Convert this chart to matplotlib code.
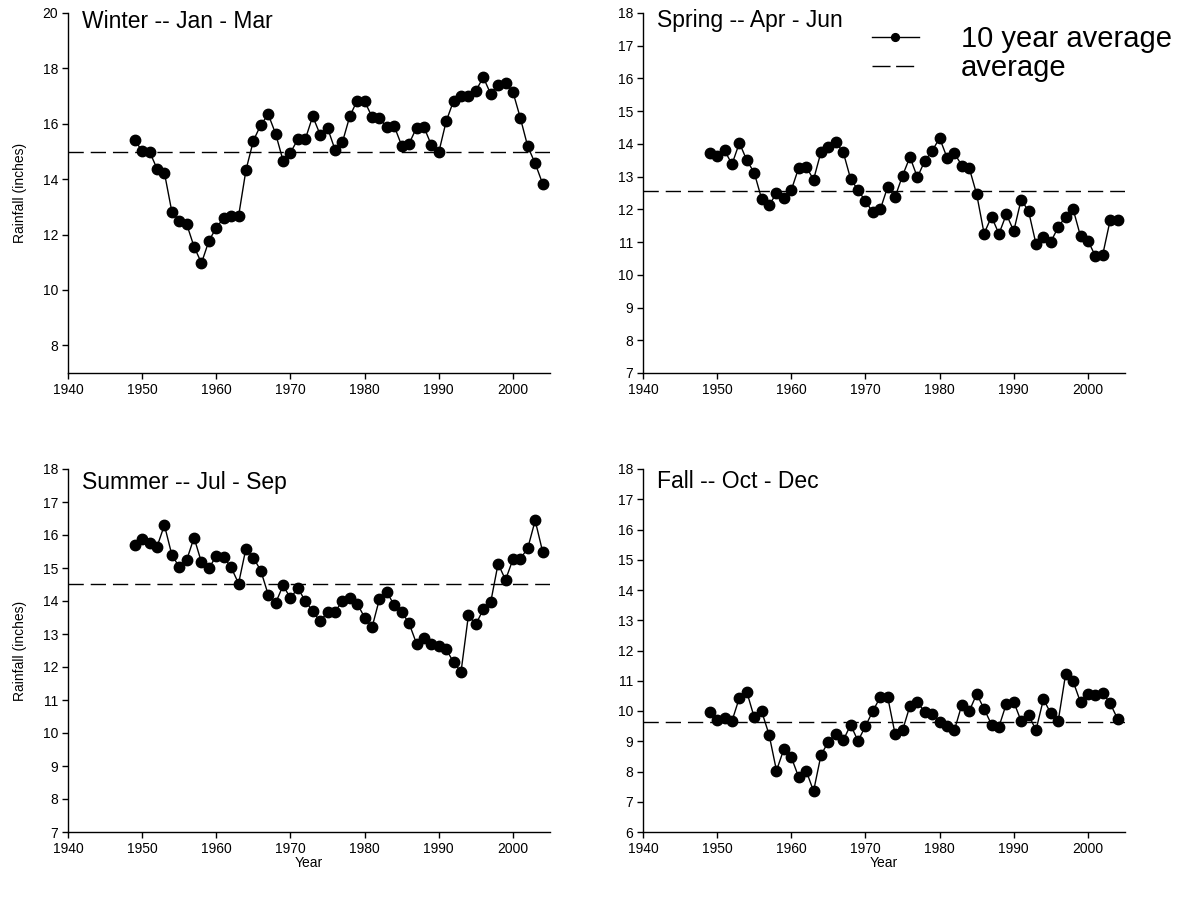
import matplotlib
matplotlib.use("Agg")
import matplotlib.pyplot as plt
from matplotlib.lines import Line2D
import numpy as np

plt.rcParams['font.family'] = ['Liberation Sans', 'DejaVu Sans']

years = list(range(1949, 2005))

winter = [15.43, 15.00, 14.99, 14.38, 14.23, 12.83, 12.49, 12.38, 11.56, 10.97,
          11.77, 12.25, 12.60, 12.66, 12.66, 14.33, 15.39, 15.96, 16.34, 15.64,
          14.67, 14.96, 15.44, 15.44, 16.27, 15.61, 15.85, 15.07, 15.33, 16.27,
          16.84, 16.81, 16.25, 16.20, 15.87, 15.91, 15.21, 15.28, 15.86, 15.88,
          15.23, 14.97, 16.09, 16.83, 17.01, 17.01, 17.19, 17.68, 17.08, 17.41,
          17.47, 17.15, 16.21, 15.18, 14.57, 13.84]
spring = [13.73, 13.63, 13.80, 13.38, 14.03, 13.50, 13.12, 12.32, 12.13, 12.49,
          12.35, 12.59, 13.27, 13.30, 12.91, 13.75, 13.91, 14.05, 13.75, 12.93,
          12.59, 12.25, 11.91, 12.00, 12.69, 12.38, 13.03, 13.60, 12.98, 13.48,
          13.79, 14.18, 13.58, 13.71, 13.34, 13.26, 12.46, 11.26, 11.78, 11.25,
          11.85, 11.34, 12.30, 11.94, 10.94, 11.17, 11.01, 11.46, 11.78, 12.01,
          11.18, 11.04, 10.58, 10.62, 11.67, 11.67]
summer = [15.70, 15.88, 15.76, 15.64, 16.30, 15.40, 15.03, 15.24, 15.92, 15.17,
          14.99, 15.37, 15.32, 15.02, 14.53, 15.59, 15.31, 14.92, 14.19, 13.94,
          14.47, 14.09, 14.39, 14.00, 13.69, 13.38, 13.67, 13.67, 14.00, 14.08,
          13.92, 13.50, 13.20, 14.06, 14.27, 13.87, 13.67, 13.32, 12.71, 12.88,
          12.69, 12.65, 12.54, 12.14, 11.85, 13.57, 13.29, 13.75, 13.96, 15.13,
          14.64, 15.26, 15.28, 15.60, 16.44, 15.50]
fall = [9.98, 9.69, 9.78, 9.67, 10.44, 10.63, 9.79, 9.99, 9.22, 8.03,
        8.74, 8.47, 7.81, 8.03, 7.35, 8.54, 8.99, 9.24, 9.03, 9.54,
        9.01, 9.50, 10.00, 10.46, 10.46, 9.23, 9.36, 10.17, 10.30, 9.96,
        9.91, 9.63, 9.50, 9.37, 10.21, 10.00, 10.56, 10.07, 9.55, 9.48,
        10.24, 10.30, 9.66, 9.86, 9.37, 10.39, 9.92, 9.68, 11.23, 10.98,
        10.29, 10.57, 10.53, 10.60, 10.25, 9.74]

averages = [14.98, 12.56, 14.52, 9.63]
titles = ["Winter -- Jan - Mar", "Spring -- Apr - Jun",
          "Summer -- Jul - Sep", "Fall -- Oct - Dec"]
ylims = [(7, 20), (7, 18), (7, 18), (6, 18)]
yticks = [list(range(8, 21, 2)), list(range(7, 19)), list(range(7, 19)), list(range(6, 19))]
xticks = [1940, 1950, 1960, 1970, 1980, 1990, 2000]
series = [winter, spring, summer, fall]

W, H = 1181, 898
fig = plt.figure(figsize=(W / 100, H / 100), dpi=100)

boxes = [(68, 13, 550, 373), (643, 13, 1125, 373),
         (68, 469, 550, 832), (643, 469, 1125, 832)]
title_off = [8, 8, 13, 13]

axes = []
for i, (l, t, r, b) in enumerate(boxes):
    ax = fig.add_axes([l / W, 1 - b / H, (r - l) / W, (b - t) / H])
    axes.append(ax)
    ax.axhline(averages[i], color='black', lw=1.0, dashes=(11, 5), zorder=1)
    ax.plot(years, series[i], color='black', lw=1.0, marker='o', ms=7.5,
            mec='black', mfc='black', zorder=3)
    ax.set_xlim(1940, 2005)
    ax.set_ylim(*ylims[i])
    ax.set_xticks(xticks)
    ax.set_yticks(yticks[i])
    for s in ['top', 'right']:
        ax.spines[s].set_visible(False)
    for s in ['left', 'bottom']:
        ax.spines[s].set_linewidth(1.0)
    ax.tick_params(direction='out', length=4, width=1, labelsize=10, pad=3)
    ax.text(14 / (r - l), 1 - title_off[i] / (b - t), titles[i], transform=ax.transAxes,
            fontsize=16.5, va='center', ha='left')
    if i in (0, 2):
        ax.set_ylabel('Rainfall (inches)', fontsize=10, labelpad=11)
    if i in (2, 3):
        ax.set_xlabel('Year', fontsize=10, labelpad=0)

ax = axes[1]
h_line = Line2D([], [], color='black', lw=1.0, marker='o', ms=5.6)
h_avg = Line2D([], [], color='black', lw=1.0, dashes=(13, 4))
ax.legend([h_line, h_avg], ['10 year average', 'average'],
          loc='upper left', bbox_to_anchor=(0.475, 0.967), frameon=False,
          fontsize=21, handlelength=1.6, handletextpad=1.45, labelspacing=0.05,
          borderpad=0, borderaxespad=0)

fig.savefig('out.png', dpi=100)
